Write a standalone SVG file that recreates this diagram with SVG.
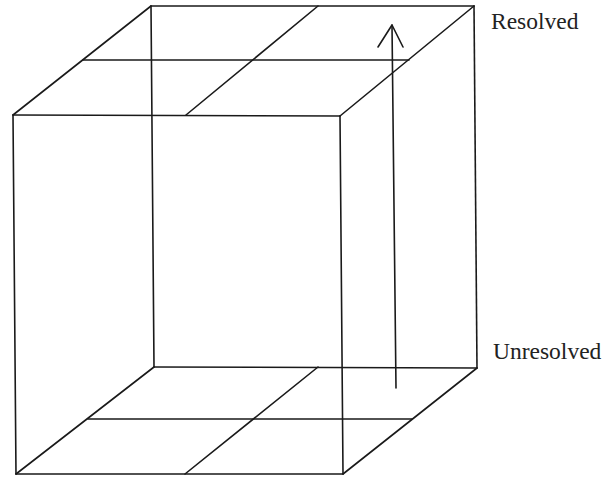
<svg xmlns="http://www.w3.org/2000/svg" width="608" height="478" viewBox="0 0 608 478">
<style>
.e{stroke:#1a1a1a;stroke-width:1.6;fill:none;stroke-linecap:round;stroke-linejoin:round}
.t{font-family:"Liberation Serif","Times New Roman",serif;font-size:23.5px;fill:#222}
</style>
<rect width="608" height="478" fill="#fff"/>
<g id="top-face" class="e">
<line x1="151" y1="6" x2="474" y2="6"/>
<line x1="13" y1="115" x2="340" y2="116"/>
<line x1="13" y1="115" x2="151" y2="6"/>
<line x1="340" y1="116" x2="474" y2="6"/>
<line x1="83" y1="60" x2="409" y2="60"/>
<line x1="186" y1="115" x2="318" y2="6"/>
</g>
<g id="verticals" class="e">
<line x1="13" y1="115" x2="16" y2="474"/>
<line x1="151" y1="6" x2="154" y2="367"/>
<line x1="340" y1="116" x2="343" y2="474"/>
<line x1="474" y1="6" x2="477" y2="368"/>
</g>
<g id="bottom-face" class="e">
<line x1="16" y1="474" x2="343" y2="474"/>
<line x1="154" y1="367" x2="477" y2="368"/>
<line x1="16" y1="474" x2="154" y2="367"/>
<line x1="343" y1="474" x2="477" y2="368"/>
<line x1="88" y1="419" x2="412" y2="419"/>
<line x1="185" y1="474" x2="318" y2="367"/>
</g>
<g id="connectors" class="e">
<line x1="396" y1="388" x2="392" y2="25"/>
<polyline points="378,47 392,25 403,47"/>
</g>
<g id="label-resolved"><text class="t" x="491" y="29">Resolved</text></g>
<g id="label-unresolved"><text class="t" x="493" y="359">Unresolved</text></g>
</svg>
